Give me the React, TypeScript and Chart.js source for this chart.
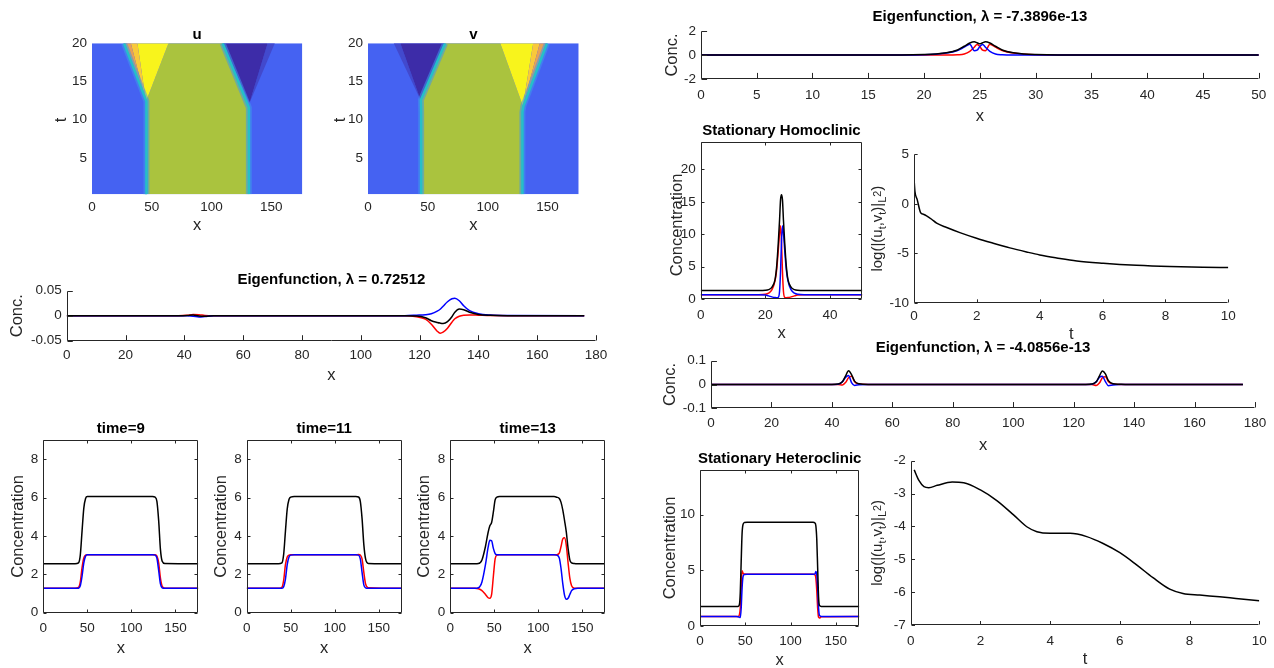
import React, { useEffect, useRef } from "react";
import { Chart, registerables } from "chart.js";

Chart.register(...registerables);

const FONT = "'Liberation Sans', Arial, Helvetica, sans-serif";
const AXIS = "#262626";
const RED = "#ff0000";
const BLUE = "#0000ff";
const BLACK = "#000000";

// ================= DATA =================
// --- space-time maps u(x,t), v(x,t): region outlines (x, t) ---
const heatBgX = [0, 176, 176, 0];
const heatBgT = [0.25, 0.25, 20, 20];

const uGreenX = [46.5, 131, 131, 109.5, 64, 45.2, 46.3];
const uGreenT = [0.25, 0.25, 11.6, 20, 20, 12.4, 11];
const uYellowX = [45.2, 64, 38];
const uYellowT = [12.4, 20, 20];
const uOrangeX = [45.2, 38, 32.5];
const uOrangeT = [12.4, 20, 20];
const uSalmonX = [45.2, 32.5, 27];
const uSalmonT = [12.4, 20, 20];
const uPurpleX = [131.8, 109.5, 147];
const uPurpleT = [12.2, 20, 20];
const uPurpleEdgeX = [131.8, 147, 153];
const uPurpleEdgeT = [12.2, 20, 20];
const uFrontLX = [45.9, 45.9, 45.2, 26.8];
const uFrontLT = [0.25, 11, 12.4, 20];
const uFrontRX = [131.3, 131.3, 109.3];
const uFrontRT = [0.25, 11.6, 20];

const vGreenX = [45, 128.6, 128.6, 129.4, 110.5, 64.7, 43.9, 44.6];
const vGreenT = [0.25, 0.25, 11, 11.8, 20, 20, 12.6, 11];
const vYellowX = [129.4, 110.5, 138];
const vYellowT = [11.8, 20, 20];
const vOrangeX = [129.4, 138, 143.5];
const vOrangeT = [11.8, 20, 20];
const vSalmonX = [129.4, 143.5, 149];
const vSalmonT = [11.8, 20, 20];
const vPurpleX = [43.9, 27, 63.8];
const vPurpleT = [12.6, 20, 20];
const vPurpleEdgeX = [43.9, 21.5, 27];
const vPurpleEdgeT = [12.6, 20, 20];
const vFrontLX = [44.4, 44.4, 44.2, 64.4];
const vFrontLT = [0.25, 11, 12.6, 20];
const vFrontRX = [129, 129, 129.8, 149.5];
const vFrontRT = [0.25, 11, 11.8, 20];

// --- Eigenfunction, lambda = 0.72512 ---
const eigCX = [0, 38, 41, 43, 45, 47, 50, 115, 119, 122, 124, 126, 127, 128, 129.5, 131, 132, 133.5, 135, 137, 140, 144, 150, 176];
const eigCU = [0, 0, 0.0008, 0.0025, 0.002, 0.0005, 0, 0, -0.002, -0.007, -0.017, -0.031, -0.035, -0.033, -0.025, -0.013, -0.006, -0.001, 0.001, 0.0015, 0.001, 0.0003, 0, 0];
const eigCV = [0, 0, -0.0003, -0.001, -0.0025, -0.0015, 0, 0, 0.001, 0.002, 0.004, 0.009, 0.013, 0.019, 0.028, 0.034, 0.035, 0.03, 0.02, 0.01, 0.004, 0.0012, 0.0002, 0];
const eigCS = [0, 0, 0.0005, 0.0015, -0.0005, -0.001, 0, 0, -0.0005, -0.004, -0.01, -0.0135, -0.0148, -0.0155, -0.012, -0.002, 0.007, 0.0133, 0.012, 0.007, 0.0025, 0.0007, 0.0001, 0];

// --- snapshots time = 9, 11, 13 ---
const t9X = [0, 36, 40, 42, 44, 46, 48, 50, 54, 124, 127, 129, 131, 133, 135, 138, 176];
const t9U = [1.27, 1.27, 1.32, 1.6, 2.35, 2.85, 3.0, 3.02, 3.02, 3.02, 3.02, 2.95, 2.6, 1.8, 1.38, 1.28, 1.27];
const t9V = [1.27, 1.27, 1.28, 1.4, 1.9, 2.6, 2.95, 3.02, 3.02, 3.02, 3.0, 2.85, 2.2, 1.5, 1.3, 1.27, 1.27];
const t9S = [2.55, 2.55, 2.6, 3.0, 4.25, 5.45, 5.95, 6.05, 6.05, 6.05, 6.02, 5.8, 4.8, 3.3, 2.68, 2.56, 2.55];

const t11X = [0, 36, 40, 42, 44, 46, 48, 50, 54, 124, 127, 129, 131, 133, 135, 138, 176];
const t11U = [1.27, 1.27, 1.33, 1.7, 2.5, 2.9, 3.0, 3.02, 3.02, 3.02, 3.03, 3.0, 2.8, 2.1, 1.5, 1.3, 1.27];
const t11V = [1.27, 1.27, 1.27, 1.35, 1.75, 2.5, 2.9, 3.0, 3.02, 3.02, 3.0, 2.8, 2.1, 1.45, 1.3, 1.27, 1.27];
const t11S = [2.55, 2.55, 2.6, 3.05, 4.25, 5.4, 5.9, 6.02, 6.05, 6.05, 6.03, 5.8, 4.9, 3.55, 2.8, 2.57, 2.55];

const t13X = [0, 28, 32, 36, 40, 43, 45, 47, 49, 51, 53, 56, 60, 118, 121, 124, 126, 128, 130, 132, 134, 136, 138, 141, 145, 176];
const t13U = [1.27, 1.27, 1.25, 1.15, 0.95, 0.78, 0.75, 0.95, 1.9, 2.8, 3.0, 3.02, 3.02, 3.02, 3.02, 3.1, 3.45, 3.85, 3.9, 3.5, 2.6, 1.8, 1.4, 1.28, 1.27, 1.27];
const t13V = [1.27, 1.27, 1.3, 1.6, 2.5, 3.4, 3.78, 3.75, 3.35, 3.08, 3.02, 3.02, 3.02, 3.02, 3.0, 2.85, 2.3, 1.5, 0.9, 0.7, 0.75, 0.95, 1.15, 1.25, 1.27, 1.27];
const t13S = [2.55, 2.55, 2.56, 2.75, 3.45, 4.18, 4.53, 4.7, 5.25, 5.88, 6.02, 6.05, 6.05, 6.05, 6.02, 5.95, 5.75, 5.35, 4.8, 4.2, 3.35, 2.75, 2.6, 2.56, 2.55, 2.55];

// --- Eigenfunction, lambda = -7.3896e-13 ---
const eigTX = [0, 18, 20, 21, 22, 23, 23.6, 24.1, 24.5, 24.75, 25, 25.25, 25.5, 25.9, 26.4, 27, 28, 29, 30, 32, 50];
const eigTU = [0, 0, 0, 0, 0, 0.02, 0.08, 0.3, 0.65, 0.88, 0.7, 0.4, 0.35, 0.9, 0.65, 0.38, 0.16, 0.07, 0.03, 0.005, 0];
const eigTV = [0, 0.005, 0.03, 0.07, 0.16, 0.38, 0.65, 0.9, 0.35, 0.4, 0.7, 0.88, 0.65, 0.3, 0.08, 0.02, 0, 0, 0, 0, 0];
const eigTS = [0, 0.01, 0.04, 0.08, 0.18, 0.42, 0.73, 1.0, 1.1, 1.02, 0.93, 1.02, 1.1, 1.0, 0.73, 0.42, 0.18, 0.08, 0.04, 0.01, 0];

// --- Stationary Homoclinic ---
const homX = [0, 18, 20, 21, 22, 23, 23.5, 24, 24.4, 24.7, 25, 25.3, 25.6, 26, 26.5, 27, 28, 29, 30, 32, 50];
const homU = [0.65, 0.65, 0.72, 0.9, 1.4, 2.8, 4.5, 7.5, 10.2, 11.3, 8.8, 4.2, 1.2, 0.25, 0.2, 0.22, 0.33, 0.48, 0.6, 0.65, 0.65];
const homV = [0.65, 0.65, 0.6, 0.48, 0.33, 0.22, 0.2, 0.25, 1.2, 4.2, 8.8, 11.3, 10.2, 7.5, 4.5, 2.8, 1.4, 0.9, 0.72, 0.65, 0.65];
const homS = [1.3, 1.3, 1.34, 1.45, 1.8, 3.0, 5.0, 8.6, 12.2, 15.3, 16.1, 15.3, 12.2, 8.6, 5.0, 3.0, 1.8, 1.45, 1.34, 1.3, 1.3];

// --- log norm decay (homoclinic) ---
const log1T = [0, 0.03, 0.1, 0.21, 0.3, 0.4, 0.56, 0.72, 1.04, 1.46, 1.99, 2.52, 3.05, 3.58, 4.0, 4.54, 5.18, 6.02, 7.08, 8.14, 9.2, 10];
const log1N = [2.59, 1.25, 0.45, -0.88, -1.05, -1.21, -1.55, -1.95, -2.39, -2.9, -3.47, -3.97, -4.44, -4.85, -5.15, -5.45, -5.76, -5.99, -6.2, -6.33, -6.4, -6.43];

// --- Eigenfunction, lambda = -4.0856e-13 ---
const eigBX = [0, 40, 42, 43.5, 44.5, 45.5, 46.5, 47.5, 49, 52, 124, 126, 127.5, 128.5, 129.5, 130.5, 131.5, 133, 135, 138, 176];
const eigBU = [0, 0, 0, -0.002, 0.008, 0.028, 0.035, 0.012, 0.002, 0, 0, 0, -0.004, 0.006, 0.028, 0.033, 0.012, 0.002, 0, 0, 0];
const eigBV = [0, 0, 0.001, 0.012, 0.03, 0.038, 0.008, -0.004, -0.001, 0, 0, 0.001, 0.012, 0.03, 0.035, 0.012, -0.005, -0.002, 0, 0, 0];
const eigBS = [0, 0, 0.002, 0.012, 0.035, 0.058, 0.042, 0.014, 0.003, 0, 0, 0.002, 0.012, 0.035, 0.057, 0.045, 0.016, 0.003, 0.001, 0, 0];

// --- Stationary Heteroclinic ---
const hetX = [0, 40, 42, 43.5, 44.5, 45.5, 46.5, 47.5, 49, 52, 125, 127, 128, 129, 130, 131, 132, 134, 176];
const hetU = [0.85, 0.85, 0.86, 1.0, 1.6, 3.4, 4.95, 4.75, 4.66, 4.65, 4.65, 4.6, 4.3, 3.2, 1.6, 0.78, 0.72, 0.83, 0.85];
const hetV = [0.85, 0.85, 0.84, 0.8, 0.76, 1.6, 3.4, 4.4, 4.63, 4.65, 4.65, 4.68, 4.9, 4.6, 3.4, 1.6, 0.95, 0.86, 0.85];
const hetS = [1.75, 1.75, 1.76, 1.9, 3.0, 5.8, 8.3, 9.1, 9.28, 9.3, 9.3, 9.25, 9.0, 7.8, 5.2, 2.6, 1.85, 1.76, 1.75];

// --- log norm decay (heteroclinic) ---
const log2T = [0.1, 0.24, 0.38, 0.52, 0.76, 1.19, 1.52, 2.0, 2.48, 2.95, 3.33, 3.62, 4.0, 4.57, 5.05, 5.52, 6.0, 6.48, 6.95, 7.43, 7.81, 8.29, 8.86, 9.33, 10];
const log2N = [-2.28, -2.61, -2.79, -2.82, -2.75, -2.65, -2.67, -2.89, -3.22, -3.65, -4.01, -4.16, -4.21, -4.21, -4.31, -4.52, -4.8, -5.17, -5.56, -5.91, -6.04, -6.09, -6.14, -6.19, -6.26];

// --- tick labels ---
const heatXTicks = [0, 50, 100, 150];
const heatXTickLabels = ["0", "50", "100", "150"];
const heatTTicks = [5, 10, 15, 20];
const heatTTickLabels = ["5", "10", "15", "20"];
const x180Ticks = [0, 20, 40, 60, 80, 100, 120, 140, 160, 180];
const x180TickLabels = ["0", "20", "40", "60", "80", "100", "120", "140", "160", "180"];
const eigCTicks = [-0.05, 0, 0.05];
const eigCTickLabels = ["-0.05", "0", "0.05"];
const concTicks = [0, 2, 4, 6, 8];
const concTickLabels = ["0", "2", "4", "6", "8"];
const x50Ticks = [0, 5, 10, 15, 20, 25, 30, 35, 40, 45, 50];
const x50TickLabels = ["0", "5", "10", "15", "20", "25", "30", "35", "40", "45", "50"];
const eigTTicks = [-2, 0, 2];
const eigTTickLabels = ["-2", "0", "2"];
const homXTicks = [0, 20, 40];
const homXTickLabels = ["0", "20", "40"];
const homYTicks = [0, 5, 10, 15, 20];
const homYTickLabels = ["0", "5", "10", "15", "20"];
const tTicks = [0, 2, 4, 6, 8, 10];
const tTickLabels = ["0", "2", "4", "6", "8", "10"];
const log1Ticks = [-10, -5, 0, 5];
const log1TickLabels = ["-10", "-5", "0", "5"];
const eigBTicks = [-0.1, 0, 0.1];
const eigBTickLabels = ["-0.1", "0", "0.1"];
const hetYTicks = [0, 5, 10];
const hetYTickLabels = ["0", "5", "10"];
const log2Ticks = [-7, -6, -5, -4, -3, -2];
const log2TickLabels = ["-7", "-6", "-5", "-4", "-3", "-2"];

// ================= STYLE =================
const HEAT_BLUE = "#4562F2";
const HEAT_GREEN = "#AAC33E";
const HEAT_YELLOW = "#F8F41C";
const HEAT_ORANGE = "#F9C93A";
const HEAT_SALMON = "#E9A054";
const HEAT_PURPLE = "#3D2CA8";
const HEAT_PURPLE_EDGE = "#4249CD";
const HEAT_CYAN = "#25BFC8";
const HEAT_HALO = "rgba(64,150,236,0.55)";

const TICK_SIZE = 13.5;
const LABEL_SIZE = 16.5;
const TITLE_SIZE = 15;

type Curve = { xs: number[]; ys: number[]; color: string; width?: number; kind?: "curve" | "poly" | "edge" };

type Spec = {
  key: string;
  plot: [number, number, number, number];
  xMin: number; xMax: number; yMin: number; yMax: number;
  xTicks: number[]; xTickLabels: string[];
  yTicks: number[]; yTickLabels: string[];
  xPad: number;
  title?: string; titleAt?: [number, number];
  xLabel: string; xLabelAt: [number, number];
  yLabel: string; yLabelAt: [number, number];
  rich?: boolean;
  box: boolean; frame: boolean;
  curves: Curve[];
};

const poly = (xs: number[], ys: number[], color: string): Curve => ({ xs, ys, color, kind: "poly" });
const edge = (xs: number[], ys: number[], color: string, width: number): Curve => ({ xs, ys, color, width, kind: "edge" });
const trio = (xs: number[], u: number[], v: number[], s: number[]): Curve[] => [
  { xs, ys: u, color: RED },
  { xs, ys: v, color: BLUE },
  { xs, ys: s, color: BLACK },
];

const uCurves: Curve[] = [
  poly(heatBgX, heatBgT, HEAT_BLUE),
  poly(uGreenX, uGreenT, HEAT_GREEN),
  poly(uYellowX, uYellowT, HEAT_YELLOW),
  poly(uOrangeX, uOrangeT, HEAT_ORANGE),
  poly(uSalmonX, uSalmonT, HEAT_SALMON),
  poly(uPurpleEdgeX, uPurpleEdgeT, HEAT_PURPLE_EDGE),
  poly(uPurpleX, uPurpleT, HEAT_PURPLE),
  edge(uFrontLX, uFrontLT, HEAT_HALO, 6),
  edge(uFrontLX, uFrontLT, HEAT_CYAN, 2.5),
  edge(uFrontRX, uFrontRT, HEAT_HALO, 6),
  edge(uFrontRX, uFrontRT, HEAT_CYAN, 2.5),
];

const vCurves: Curve[] = [
  poly(heatBgX, heatBgT, HEAT_BLUE),
  poly(vGreenX, vGreenT, HEAT_GREEN),
  poly(vYellowX, vYellowT, HEAT_YELLOW),
  poly(vOrangeX, vOrangeT, HEAT_ORANGE),
  poly(vSalmonX, vSalmonT, HEAT_SALMON),
  poly(vPurpleEdgeX, vPurpleEdgeT, HEAT_PURPLE_EDGE),
  poly(vPurpleX, vPurpleT, HEAT_PURPLE),
  edge(vFrontLX, vFrontLT, HEAT_HALO, 6),
  edge(vFrontLX, vFrontLT, HEAT_CYAN, 2.5),
  edge(vFrontRX, vFrontRT, HEAT_HALO, 6),
  edge(vFrontRX, vFrontRT, HEAT_CYAN, 2.5),
];

const SPECS: Spec[] = [
  {
    key: "u", plot: [92, 43.3, 302.3, 194.3], xMin: 0, xMax: 176, yMin: 0.25, yMax: 20,
    xTicks: heatXTicks, xTickLabels: heatXTickLabels, yTicks: heatTTicks, yTickLabels: heatTTickLabels, xPad: 5,
    title: "u", titleAt: [197.2, 34.5], xLabel: "x", xLabelAt: [197.2, 225], yLabel: "t", yLabelAt: [61, 120],
    box: false, frame: false, curves: uCurves,
  },
  {
    key: "v", plot: [368, 43.3, 578.7, 194.3], xMin: 0, xMax: 176, yMin: 0.25, yMax: 20,
    xTicks: heatXTicks, xTickLabels: heatXTickLabels, yTicks: heatTTicks, yTickLabels: heatTTickLabels, xPad: 5,
    title: "v", titleAt: [473.4, 34.5], xLabel: "x", xLabelAt: [473.4, 225], yLabel: "t", yLabelAt: [340.7, 120],
    box: false, frame: false, curves: vCurves,
  },
  {
    key: "eigC", plot: [66.7, 290.7, 596, 340.7], xMin: 0, xMax: 180, yMin: -0.05, yMax: 0.05,
    xTicks: x180Ticks, xTickLabels: x180TickLabels, yTicks: eigCTicks, yTickLabels: eigCTickLabels, xPad: 6.5,
    title: "Eigenfunction, \u03bb = 0.72512", titleAt: [331.4, 280], xLabel: "x", xLabelAt: [331.4, 375],
    yLabel: "Conc.", yLabelAt: [17, 315.7], box: false, frame: true, curves: trio(eigCX, eigCU, eigCV, eigCS),
  },
  {
    key: "t9", plot: [43.3, 440, 198.3, 612.7], xMin: 0, xMax: 176, yMin: 0, yMax: 9,
    xTicks: heatXTicks, xTickLabels: heatXTickLabels, yTicks: concTicks, yTickLabels: concTickLabels, xPad: 7.5,
    title: "time=9", titleAt: [120.8, 429], xLabel: "x", xLabelAt: [120.8, 648],
    yLabel: "Concentration", yLabelAt: [18.3, 526.4], box: true, frame: true, curves: trio(t9X, t9U, t9V, t9S),
  },
  {
    key: "t11", plot: [246.7, 440, 401.7, 612.7], xMin: 0, xMax: 176, yMin: 0, yMax: 9,
    xTicks: heatXTicks, xTickLabels: heatXTickLabels, yTicks: concTicks, yTickLabels: concTickLabels, xPad: 7.5,
    title: "time=11", titleAt: [324.2, 429], xLabel: "x", xLabelAt: [324.2, 648],
    yLabel: "Concentration", yLabelAt: [221.7, 526.4], box: true, frame: true, curves: trio(t11X, t11U, t11V, t11S),
  },
  {
    key: "t13", plot: [450.3, 440, 605, 612.7], xMin: 0, xMax: 176, yMin: 0, yMax: 9,
    xTicks: heatXTicks, xTickLabels: heatXTickLabels, yTicks: concTicks, yTickLabels: concTickLabels, xPad: 7.5,
    title: "time=13", titleAt: [527.7, 429], xLabel: "x", xLabelAt: [527.7, 648],
    yLabel: "Concentration", yLabelAt: [424, 526.4], box: true, frame: true, curves: trio(t13X, t13U, t13V, t13S),
  },
  {
    key: "eigT", plot: [700.9, 31, 1258.8, 79], xMin: 0, xMax: 50, yMin: -2, yMax: 2,
    xTicks: x50Ticks, xTickLabels: x50TickLabels, yTicks: eigTTicks, yTickLabels: eigTTickLabels, xPad: 8,
    title: "Eigenfunction, \u03bb = -7.3896e-13", titleAt: [979.9, 17], xLabel: "x", xLabelAt: [979.9, 116],
    yLabel: "Conc.", yLabelAt: [672, 55], box: false, frame: true, curves: trio(eigTX, eigTU, eigTV, eigTS),
  },
  {
    key: "hom", plot: [700.7, 142.3, 862.3, 299], xMin: 0, xMax: 50, yMin: 0, yMax: 24.2,
    xTicks: homXTicks, xTickLabels: homXTickLabels, yTicks: homYTicks, yTickLabels: homYTickLabels, xPad: 8,
    title: "Stationary Homoclinic", titleAt: [781.5, 131], xLabel: "x", xLabelAt: [781.5, 333],
    yLabel: "Concentration", yLabelAt: [677.5, 225], box: true, frame: true, curves: trio(homX, homU, homV, homS),
  },
  {
    key: "log1", plot: [914, 154.3, 1228.3, 303], xMin: 0, xMax: 10, yMin: -10, yMax: 5,
    xTicks: tTicks, xTickLabels: tTickLabels, yTicks: log1Ticks, yTickLabels: log1TickLabels, xPad: 5,
    xLabel: "t", xLabelAt: [1071.2, 334.3], yLabel: "log", yLabelAt: [876.7, 228.7], rich: true,
    box: false, frame: true, curves: [{ xs: log1T, ys: log1N, color: BLACK }],
  },
  {
    key: "eigB", plot: [711, 360.7, 1255, 408.3], xMin: 0, xMax: 180, yMin: -0.1, yMax: 0.1,
    xTicks: x180Ticks, xTickLabels: x180TickLabels, yTicks: eigBTicks, yTickLabels: eigBTickLabels, xPad: 7,
    title: "Eigenfunction, \u03bb = -4.0856e-13", titleAt: [983, 348.3], xLabel: "x", xLabelAt: [983, 445],
    yLabel: "Conc.", yLabelAt: [670.7, 384.5], box: false, frame: true, curves: trio(eigBX, eigBU, eigBV, eigBS),
  },
  {
    key: "het", plot: [700, 470, 859.3, 626], xMin: 0, xMax: 176, yMin: 0, yMax: 14,
    xTicks: heatXTicks, xTickLabels: heatXTickLabels, yTicks: hetYTicks, yTickLabels: hetYTickLabels, xPad: 7,
    title: "Stationary Heteroclinic", titleAt: [779.7, 459.3], xLabel: "x", xLabelAt: [779.7, 660],
    yLabel: "Concentration", yLabelAt: [670, 548], box: true, frame: true, curves: trio(hetX, hetU, hetV, hetS),
  },
  {
    key: "log2", plot: [910.7, 460.7, 1259.3, 625], xMin: 0, xMax: 10, yMin: -7, yMax: -2,
    xTicks: tTicks, xTickLabels: tTickLabels, yTicks: log2Ticks, yTickLabels: log2TickLabels, xPad: 8,
    xLabel: "t", xLabelAt: [1085, 659.3], yLabel: "log", yLabelAt: [876.7, 542.9], rich: true,
    box: false, frame: true, curves: [{ xs: log2T, ys: log2N, color: BLACK }],
  },
];

function geom(s: Spec) {
  const [L, T, R, B] = s.plot;
  const cl = Math.floor(Math.min(L - 50, s.yLabelAt[0] - 14));
  const ct = Math.floor(Math.min(T - 12, s.titleAt ? s.titleAt[1] - 12 : T - 12));
  const cr = Math.ceil(R + 24);
  const cb = Math.ceil(Math.max(B + 28, s.xLabelAt[1] + 12));
  return { cl, ct, w: cr - cl, h: cb - ct, padL: L - cl, padT: T - ct, padR: cr - R, padB: cb - B };
}

function drawRichLog(ctx: CanvasRenderingContext2D, cx: number, cy: number, size: number) {
  const segs: [string, number][] = [["log(|(u", 0], ["t", 1], [",v", 0], ["t", 1], [")|", 0], ["L", 1], ["2", 2], [")", 0]];
  const small = size * 0.72;
  const fontFor = (lv: number) => `${lv ? small : size}px ${FONT}`;
  let total = 0;
  const widths = segs.map(([t, lv]) => {
    ctx.font = fontFor(lv);
    const w = ctx.measureText(t).width;
    total += w;
    return w;
  });
  ctx.save();
  ctx.translate(cx, cy);
  ctx.rotate(-Math.PI / 2);
  ctx.textAlign = "left";
  ctx.textBaseline = "alphabetic";
  let x = -total / 2;
  const base = size * 0.36;
  segs.forEach(([t, lv], i) => {
    ctx.font = fontFor(lv);
    const off = lv === 1 ? size * 0.28 : lv === 2 ? -size * 0.1 : 0;
    ctx.fillText(t, x, base + off);
    x += widths[i];
  });
  ctx.restore();
}

function makeFramePlugin(s: Spec, g: ReturnType<typeof geom>) {
  return {
    id: "frame_" + s.key,
    afterDatasetsDraw(chart: any) {
      if (!s.frame) return;
      const { ctx, chartArea: a } = chart;
      const xs = chart.scales.x;
      const ys = chart.scales.y;
      const L = Math.round(a.left) + 0.5;
      const R = Math.round(a.right) - 0.5;
      const T = Math.round(a.top) + 0.5;
      const B = Math.round(a.bottom) - 0.5;
      const tl = Math.max(3, 0.01 * Math.max(a.right - a.left, a.bottom - a.top));
      ctx.save();
      ctx.strokeStyle = AXIS;
      ctx.lineWidth = 1;
      ctx.beginPath();
      ctx.moveTo(L, T);
      ctx.lineTo(L, B);
      ctx.lineTo(R, B);
      if (s.box) {
        ctx.lineTo(R, T);
        ctx.lineTo(L, T);
      }
      for (const v of s.xTicks) {
        const px = Math.round(xs.getPixelForValue(v)) + 0.5;
        ctx.moveTo(px, B);
        ctx.lineTo(px, B - tl);
        if (s.box) {
          ctx.moveTo(px, T);
          ctx.lineTo(px, T + tl);
        }
      }
      for (const v of s.yTicks) {
        const py = Math.round(ys.getPixelForValue(v)) + 0.5;
        ctx.moveTo(L, py);
        ctx.lineTo(L + tl, py);
        if (s.box) {
          ctx.moveTo(R, py);
          ctx.lineTo(R - tl, py);
        }
      }
      ctx.stroke();
      ctx.restore();
    },
    afterDraw(chart: any) {
      const ctx: CanvasRenderingContext2D = chart.ctx;
      ctx.save();
      ctx.textAlign = "center";
      ctx.textBaseline = "middle";
      if (s.title && s.titleAt) {
        ctx.fillStyle = "#000";
        ctx.font = `bold ${TITLE_SIZE}px ${FONT}`;
        ctx.fillText(s.title, s.titleAt[0] - g.cl, s.titleAt[1] - g.ct);
      }
      ctx.fillStyle = AXIS;
      ctx.font = `${LABEL_SIZE}px ${FONT}`;
      ctx.fillText(s.xLabel, s.xLabelAt[0] - g.cl, s.xLabelAt[1] - g.ct);
      if (s.rich) {
        drawRichLog(ctx, s.yLabelAt[0] - g.cl, s.yLabelAt[1] - g.ct, LABEL_SIZE - 1.5);
      } else {
        ctx.save();
        ctx.translate(s.yLabelAt[0] - g.cl, s.yLabelAt[1] - g.ct);
        ctx.rotate(-Math.PI / 2);
        ctx.font = `${LABEL_SIZE}px ${FONT}`;
        ctx.fillText(s.yLabel, 0, 0);
        ctx.restore();
      }
      ctx.restore();
    },
  };
}

function buildConfig(s: Spec, g: ReturnType<typeof geom>): any {
  const datasets = s.curves
    .map((c) => {
      const data = c.xs.map((x, i) => ({ x, y: c.ys[i] }));
      if (c.kind === "poly") {
        return { data, borderWidth: 0, borderColor: c.color, backgroundColor: c.color, fill: "shape", tension: 0, pointRadius: 0 };
      }
      if (c.kind === "edge") {
        return { data, borderWidth: c.width ?? 2, borderColor: c.color, fill: false, tension: 0, pointRadius: 0, borderCapStyle: "butt" };
      }
      return {
        data, borderWidth: c.width ?? 1.5, borderColor: c.color, fill: false, pointRadius: 0,
        cubicInterpolationMode: "monotone", borderJoinStyle: "round",
      };
    })
    .reverse();
  const tickFont = { family: FONT, size: TICK_SIZE };
  return {
    type: "line",
    data: { datasets },
    options: {
      animation: false,
      responsive: false,
      devicePixelRatio: 1,
      events: [],
      layout: { padding: { left: 0, top: g.padT, right: g.padR, bottom: 0 } },
      plugins: { legend: { display: false }, tooltip: { enabled: false }, title: { display: false } },
      elements: { point: { radius: 0 } },
      scales: {
        x: {
          type: "linear", position: "bottom", min: s.xMin, max: s.xMax,
          grid: { display: false, drawTicks: false }, border: { display: false },
          ticks: {
            autoSkip: false, maxRotation: 0, minRotation: 0, padding: s.xPad, color: AXIS, font: tickFont,
            callback: (_v: number, i: number) => s.xTickLabels[i] ?? "",
          },
          afterBuildTicks: (sc: any) => { sc.ticks = s.xTicks.map((v) => ({ value: v })); },
          afterFit: (sc: any) => { sc.height = g.padB; sc.paddingLeft = 0; sc.paddingRight = 0; },
        },
        y: {
          type: "linear", position: "left", min: s.yMin, max: s.yMax,
          grid: { display: false, drawTicks: false }, border: { display: false },
          ticks: {
            autoSkip: false, padding: 5, color: AXIS, font: tickFont,
            callback: (_v: number, i: number) => s.yTickLabels[i] ?? "",
          },
          afterBuildTicks: (sc: any) => { sc.ticks = s.yTicks.map((v) => ({ value: v })); },
          afterFit: (sc: any) => { sc.width = g.padL; sc.paddingTop = 0; sc.paddingBottom = 0; },
        },
      },
    },
    plugins: [makeFramePlugin(s, g)],
  };
}

function Panel({ spec }: { spec: Spec }) {
  const ref = useRef<HTMLCanvasElement>(null);
  const g = geom(spec);
  useEffect(() => {
    const chart = new Chart(ref.current as HTMLCanvasElement, buildConfig(spec, g));
    return () => chart.destroy();
  }, []);
  return (
    <canvas
      ref={ref}
      width={g.w}
      height={g.h}
      style={{ position: "absolute", left: g.cl, top: g.ct, width: g.w, height: g.h }}
    />
  );
}

export default function App() {
  return (
    <div style={{ position: "absolute", left: 0, top: 0, width: 1274, height: 668, overflow: "hidden", background: "#ffffff" }}>
      {SPECS.map((s) => (
        <Panel key={s.key} spec={s} />
      ))}
    </div>
  );
}
